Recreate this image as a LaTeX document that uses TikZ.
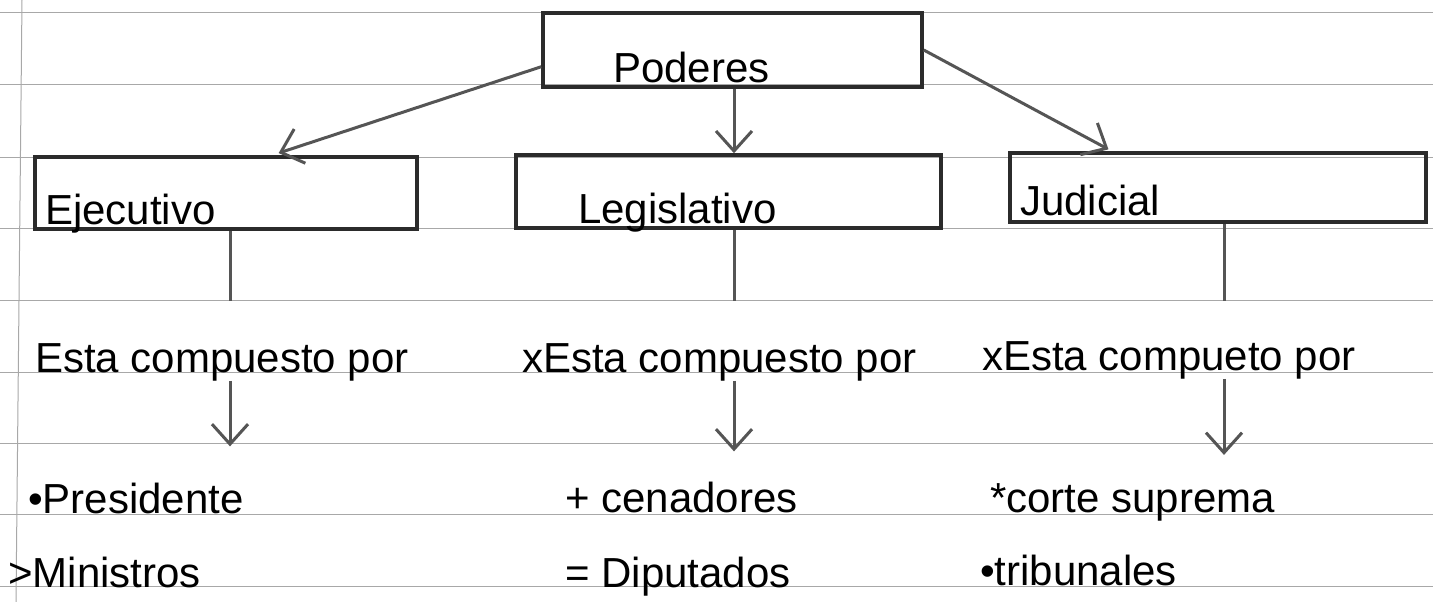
\documentclass[tikz,border=0pt]{standalone}
\usepackage{fontspec}
\setmainfont{Liberation Sans}
\usepackage{tikz}
\usetikzlibrary{arrows.meta}
\definecolor{boxink}{HTML}{2B2B2B}
\definecolor{arrowink}{HTML}{555555}
\definecolor{ruleink}{HTML}{A8A8A8}

\begin{document}
\begin{tikzpicture}[x=1pt, y=-1pt,
    font=\fontsize{42}{46}\selectfont,
    rule/.style={draw=ruleink, line width=1pt},
    box/.style={draw=boxink, line width=3.5pt, inner ysep=2pt, align=left},
    link/.style={draw=arrowink, line width=3pt},
    arrow/.style={link, -{Straight Barb[length=20pt, width=36pt, line width=3pt]}},
    item/.style={anchor=base west, inner sep=0pt}]
  \useasboundingbox[fill=white] (0,0) rectangle (1433,602);

  % lined paper
  \foreach \ry in {13,85,157,228,300,372,443,514,586}
    \draw[rule] (0,\ry) -- (1433,\ry);
  \draw[rule] (22,0) -- (16,602);

  \node[box, inner xsep=70pt, text width=239pt, text height=67pt, text depth=3pt]
    (poderes) at (732.5,50) {Poderes};
  \node[box, inner xsep=10pt, text width=362pt, text height=65pt, text depth=3pt]
    (ejecutivo) at (226,193) {Ejecutivo};
  \node[box, inner xsep=62pt, text width=301pt, text height=66pt, text depth=3pt]
    (legislativo) at (728.5,191.5) {Legislativo};
  \node[box, inner xsep=10pt, text width=396pt, text height=60pt, text depth=5pt]
    (judicial) at (1218,187.5) {Judicial};

  \node[item] (ejecomp) at (35,372) {Esta compuesto por};
  \node[item] (legcomp) at (522,372) {xEsta compuesto por};
  \node[item] (judcomp) at (982,370) {xEsta compueto por};

  \node[item] (ejepres) at (28,513) {•Presidente};
  \node[item] (ejemin) at (8,587) {>Ministros};
  \node[item] (legsen) at (565,512) {+ cenadores};
  \node[item] (legdip) at (565,587) {= Diputados};
  \node[item] (judcorte) at (990,512) {*corte suprema};
  \node[item] (judtrib) at (980,585) {•tribunales};

  \coordinate (colA) at (230,0);
  \coordinate (colB) at (734,0);
  \coordinate (colC) at (1224,0);

  \draw[arrow, shorten >=7pt] (poderes.185) -- ([xshift=46pt]ejecutivo.north);
  \draw[arrow] (poderes.south -| colB) -- (legislativo.north -| colB);
  \draw[arrow, shorten >=4pt] (poderes.east) -- ([xshift=-106pt]judicial.north);

  \draw[link, shorten >=42pt] (ejecutivo.south -| colA) -- (ejecomp.north -| colA);
  \draw[link, shorten >=42pt] (legislativo.south -| colB) -- (legcomp.north -| colB);
  \draw[link, shorten >=40pt] (judicial.south -| colC) -- (judcomp.north -| colC);

  \draw[arrow, shorten >=36pt] (ejecomp.south -| colA) -- (ejepres.north -| colA);
  \draw[arrow, shorten >=30pt] (legcomp.south -| colB) -- (legsen.north -| colB);
  \draw[arrow, shorten >=28pt] (judcomp.south -| colC) -- (judcorte.north -| colC);
\end{tikzpicture}
\end{document}
